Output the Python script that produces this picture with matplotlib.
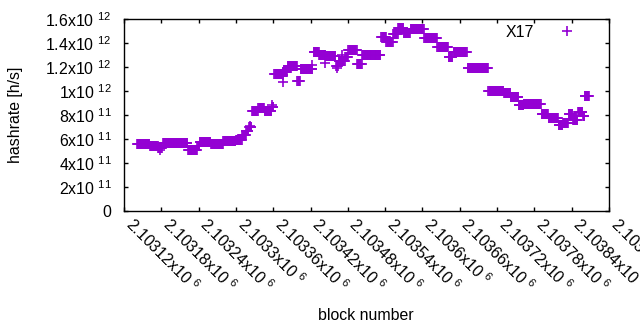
import numpy as np
import matplotlib
matplotlib.use('Agg')
import matplotlib.pyplot as plt

plt.rcParams['font.family'] = ['Liberation Sans', 'DejaVu Sans']
plt.rcParams['mathtext.fontset'] = 'custom'
plt.rcParams['mathtext.rm'] = 'Liberation Sans'
plt.rcParams['mathtext.default'] = 'regular'

# hashrate stays flat between difficulty changes: first block, last block, rate (x1e11 h/s)
seg_first = [2103141, 2103162, 2103175, 2103183, 2103223, 2103238, 2103242, 2103260,
             2103280, 2103300, 2103310, 2103317, 2103321, 2103326, 2103336, 2103346,
             2103358, 2103362, 2103375, 2103383, 2103399, 2103404, 2103425, 2103434,
             2103445, 2103461, 2103465, 2103476, 2103481, 2103495, 2103503, 2103534,
             2103542, 2103553, 2103561, 2103570, 2103581, 2103603, 2103624, 2103642,
             2103650, 2103673, 2103706, 2103731, 2103742, 2103755, 2103763, 2103792,
             2103803, 2103819, 2103826, 2103835, 2103842, 2103850, 2103858, 2103861]
seg_last = [2103161, 2103174, 2103181, 2103222, 2103237, 2103241, 2103259, 2103279,
            2103299, 2103309, 2103316, 2103320, 2103325, 2103335, 2103345, 2103357,
            2103360, 2103374, 2103382, 2103398, 2103403, 2103423, 2103433, 2103444,
            2103460, 2103464, 2103475, 2103480, 2103494, 2103502, 2103532, 2103541,
            2103552, 2103560, 2103569, 2103580, 2103602, 2103623, 2103641, 2103648,
            2103671, 2103705, 2103730, 2103741, 2103754, 2103762, 2103790, 2103802,
            2103818, 2103825, 2103834, 2103841, 2103849, 2103857, 2103860, 2103868]
seg_rate = [5.58, 5.42, 5.25, 5.67, 5.08, 5.42, 5.79, 5.58,
            5.83, 5.92, 6.33, 6.67, 7.0, 8.33, 8.58, 8.33,
            8.67, 11.42, 11.6, 12.1, 10.8, 11.8, 13.25, 13.0,
            12.9, 12.1, 12.5, 12.8, 13.4, 12.25, 13.0, 14.5,
            14.1, 14.75, 15.25, 14.83, 15.17, 14.4, 13.67, 12.83,
            13.25, 11.9, 10.0, 9.83, 9.5, 8.83, 8.92, 8.08,
            7.75, 7.17, 7.33, 8.08, 7.58, 8.25, 7.9, 9.58]

# odd single blocks
extra_block = [2103178, 2103323, 2103358, 2103376, 2103376, 2103423, 2103444, 2103463, 2103471]
extra_rate = [5.08, 7.08, 8.83, 10.75, 11.33, 12.17, 12.33, 11.9, 13.0]

xtick_mant = ['2.10312', '2.10318', '2.10324', '2.1033', '2.10336', '2.10342', '2.10348',
              '2.10354', '2.1036', '2.10366', '2.10372', '2.10378', '2.10384', '2.1039']
ytick_text = ['0', '2x10 $^{11}$', '4x10 $^{11}$', '6x10 $^{11}$', '8x10 $^{11}$',
              '1x10 $^{12}$', '1.2x10 $^{12}$', '1.4x10 $^{12}$', '1.6x10 $^{12}$']

blocks = []
rates = []
for a, b, r in zip(seg_first, seg_last, seg_rate):
    for blk in range(a, b + 1):
        blocks.append(blk)
        rates.append(r * 1e11)
blocks += extra_block
rates += [r * 1e11 for r in extra_rate]

fig = plt.figure(figsize=(6.4, 3.3), dpi=100)
ax = fig.add_axes([124/640, 1 - 211/330, 485/640, 192/330])

ax.plot(blocks, rates, ls='', marker='+', ms=6.5, mew=1.2, color='#9400d3', label='X17')

ax.set_xlim(2103120, 2103900)
ax.set_ylim(0, 1.6e12)
xt = [2103120 + 60 * i for i in range(len(xtick_mant))]
ax.set_xticks(xt)
ax.set_xticklabels([m + 'x10 $^{6}$' for m in xtick_mant], rotation=-45,
                   ha='left', va='baseline', rotation_mode='anchor')
ax.set_yticks([2e11 * i for i in range(len(ytick_text))])
ax.set_yticklabels(ytick_text)
ax.tick_params(direction='in', length=3, width=1, top=True, right=True,
               labelsize=11.4, colors='black')
ax.tick_params(axis='x', pad=10.5)
ax.tick_params(axis='y', pad=9)
for s in ax.spines.values():
    s.set_linewidth(1.0)

ax.legend(loc='center right', bbox_to_anchor=(0.946, 0.932), frameon=False,
          markerfirst=False, fontsize=11.4, handlelength=2, handletextpad=1.1,
          borderpad=0, borderaxespad=0)

fig.text(16/640, 1 - 115/330, 'hashrate [h/s]', rotation=90, ha='center', va='center',
         fontsize=11.4)
fig.text(366/640, 1 - 315/330, 'block number', ha='center', va='center', fontsize=11.4)

fig.savefig('out.png', dpi=100)
